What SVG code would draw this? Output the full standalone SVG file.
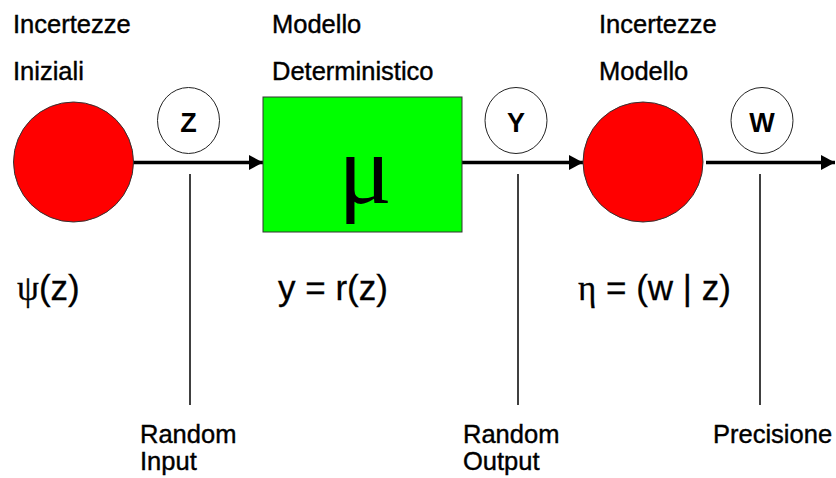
<svg xmlns="http://www.w3.org/2000/svg" width="836" height="478" viewBox="0 0 836 478">
<defs>
<style>
.t{font-family:"Liberation Sans",Arial,sans-serif;font-size:25.5px;fill:#000;stroke:#000;stroke-width:0.4}
.f{font-family:"Liberation Sans",Arial,sans-serif;font-size:35px;fill:#000;stroke:#000;stroke-width:0.3}
.s{font-family:"Liberation Serif","DejaVu Serif",serif}
.lab{font-family:"Liberation Sans",Arial,sans-serif;font-size:27px;font-weight:bold;fill:#000;text-anchor:middle}
.small{fill:#fff;stroke:#222;stroke-width:1}
.conn{stroke:#000;stroke-width:3.5;fill:none}
.tick{stroke:#000;stroke-width:1.5}
</style>
<marker id="ah" markerWidth="14" markerHeight="15" refX="14" refY="7.5" orient="auto" markerUnits="userSpaceOnUse">
<path d="M0,0 L14,7.5 L0,15 Z" fill="#000"/>
</marker>
</defs>
<rect width="836" height="478" fill="#fff"/>
<g id="connectors">
<line class="conn" x1="133" y1="162.5" x2="263" y2="162.5" marker-end="url(#ah)"/>
<line class="conn" x1="462" y1="162.5" x2="583" y2="162.5" marker-end="url(#ah)"/>
<line class="conn" x1="706" y1="162.5" x2="835" y2="162.5" marker-end="url(#ah)"/>
<line class="tick" x1="190" y1="174" x2="190" y2="405"/>
<line class="tick" x1="518" y1="174" x2="518" y2="405"/>
<line class="tick" x1="760" y1="174" x2="760" y2="405" stroke="#666"/>
</g>
<g id="incertezze-iniziali">
<circle cx="73.5" cy="162" r="60" fill="#ff0000" stroke="#333" stroke-width="1"/>
<text class="t" x="13" y="33">Incertezze</text>
<text class="t" x="13" y="80">Iniziali</text>
<text class="f" x="17" y="300"><tspan class="s">ψ</tspan>(z)</text>
</g>
<g id="z-node">
<ellipse class="small" cx="188.5" cy="120.5" rx="31" ry="33"/>
<text class="lab" x="188.5" y="132">Z</text>
</g>
<g id="modello-deterministico">
<rect x="263" y="97" width="199" height="135" fill="#00ff00" stroke="#333" stroke-width="1"/>
<text x="365" y="203" font-family="'Liberation Serif','DejaVu Serif',serif" font-size="100" text-anchor="middle">μ</text>
<text class="t" x="272" y="33">Modello</text>
<text class="t" x="272" y="80">Deterministico</text>
<text class="f" x="278" y="300">y = r(z)</text>
</g>
<g id="y-node">
<ellipse class="small" cx="516" cy="120.5" rx="31" ry="33"/>
<text class="lab" x="516" y="132">Y</text>
</g>
<g id="incertezze-modello">
<circle cx="643" cy="162" r="60" fill="#ff0000" stroke="#333" stroke-width="1"/>
<text class="t" x="599" y="33">Incertezze</text>
<text class="t" x="599" y="80">Modello</text>
<text class="f" x="578" y="300"><tspan class="s">η</tspan> = (w | z)</text>
</g>
<g id="w-node">
<ellipse class="small" cx="762" cy="120.5" rx="31" ry="33"/>
<text class="lab" x="762" y="132">W</text>
</g>
<g id="labels">
<text class="t" x="140" y="443">Random</text>
<text class="t" x="140" y="470">Input</text>
<text class="t" x="463" y="443">Random</text>
<text class="t" x="463" y="470">Output</text>
<text class="t" x="713" y="443">Precisione</text>
</g>
</svg>
